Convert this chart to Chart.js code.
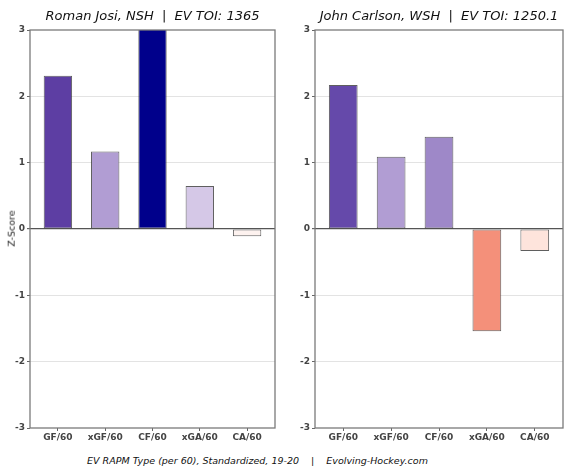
<!DOCTYPE html>
<html>
<head>
<meta charset="utf-8">
<script src="https://cdn.jsdelivr.net/npm/chart.js@4.4.1/dist/chart.umd.min.js"></script>
<style>
  html, body { margin: 0; padding: 0; background: #fff; }
  body { width: 575px; height: 473px; position: relative; overflow: hidden; font-family: "DejaVu Sans", sans-serif; }
  .box { position: absolute; top: 0; width: 290px; height: 450px; }
  .title { position: absolute; top: 8px; font-style: italic; font-size: 13px; color: #111; text-align: center; white-space: pre; }
  #ylab { position: absolute; left: -7px; top: 223px; font-size: 9.5px; color: #222; transform: rotate(-90deg); white-space: pre; }
  #caption { position: absolute; left: -30px; width: 575px; top: 455px; text-align: center; font-style: italic; font-size: 9.5px; color: #111; white-space: pre; }
</style>
</head>
<body>
<div class="box" style="left:0"><canvas id="leftChart"></canvas></div>
<div class="box" style="left:285px"><canvas id="rightChart"></canvas></div>
<div class="title" style="left:30px;width:245px">Roman Josi, NSH  |  EV TOI: 1365</div>
<div class="title" style="left:315px;width:248px">John Carlson, WSH  |  EV TOI: 1250.1</div>
<div id="ylab">Z-Score</div>
<div id="caption">EV RAPM Type (per 60), Standardized, 19-20    |    Evolving-Hockey.com</div>
<script>
// categorias y valores (z-score)
const metricas = ['GF/60', 'xGF/60', 'CF/60', 'xGA/60', 'CA/60'];
const josiValores = [2.31, 1.17, 3.2, 0.65, -0.11];
const carlsonValores = [2.17, 1.09, 1.39, -1.54, -0.33];
const josiColores = ['#5d3ea3', '#b19dd3', '#00008b', '#d5c8e7', '#fdf2ef'];
const carlsonColores = ['#6549aa', '#b19dd3', '#9e88c8', '#f4907a', '#fee4dc'];
const yTicks = [-3, -2, -1, 0, 1, 2, 3];

// marco completo alrededor del area del grafico
const marco = {
    id: 'marco',
    afterDraw(chart) {
        const a = chart.chartArea;
        const ctx = chart.ctx;
        ctx.save();
        ctx.strokeStyle = '#7a7a7a';
        ctx.lineWidth = 1.3;
        ctx.strokeRect(a.left, a.top, a.right - a.left, a.bottom - a.top);
        ctx.restore();
    }
};

function dibujarPanel(id, valores, colores, padLeft, padRight) {
    const data = {
        datasets: [{
            data: valores.map((v, i) => ({x: i, y: v})),
            backgroundColor: colores,
            borderColor: 'rgba(55,55,55,0.8)',
            borderWidth: 1,
            borderSkipped: false,
            barPercentage: 0.6,
            categoryPercentage: 1
        }]
    };
    const options = {
        responsive: false,
        animation: false,
        layout: { padding: { top: 30, right: padRight, left: padLeft, bottom: 0 } },
        plugins: { legend: { display: false }, tooltip: { enabled: false } },
        scales: {
            x: {
                type: 'linear',
                offset: false,
                min: -0.59,
                max: 4.59,
                afterBuildTicks: s => { s.ticks = metricas.map((m, i) => ({value: i})); },
                afterFit: s => { s.height = 22; },
                ticks: {
                    callback: (v) => metricas[v],
                    color: '#444',
                    font: { family: 'DejaVu Sans', size: 9, weight: 'bold' },
                    padding: 1,
                    maxRotation: 0,
                    autoSkip: false
                },
                grid: { display: true, offset: false, drawOnChartArea: false, tickLength: 3, tickColor: '#666' },
                border: { display: false }
            },
            y: {
                min: -3,
                max: 3,
                afterBuildTicks: s => { s.ticks = yTicks.map(v => ({value: v})); },
                afterFit: s => { s.width = 30 - padLeft; },
                ticks: {
                    color: '#444',
                    font: { family: 'DejaVu Sans', size: 9, weight: 'bold' },
                    padding: 2
                },
                grid: {
                    color: c => c.tick.value === 0 ? '#555' : (Math.abs(c.tick.value) === 3 ? 'rgba(0,0,0,0)' : '#e3e3e3'),
                    lineWidth: c => c.tick.value === 0 ? 1.2 : 1,
                    tickLength: 3,
                    tickColor: '#666'
                },
                border: { display: false }
            }
        }
    };
    const canvas = document.getElementById(id);
    canvas.width = 290;
    canvas.height = 450;
    new Chart(canvas, { type: 'bar', data, options, plugins: [marco] });
}

dibujarPanel('leftChart', josiValores, josiColores, 0, 15);
dibujarPanel('rightChart', carlsonValores, carlsonColores, 0, 12);
</script>
</body>
</html>
